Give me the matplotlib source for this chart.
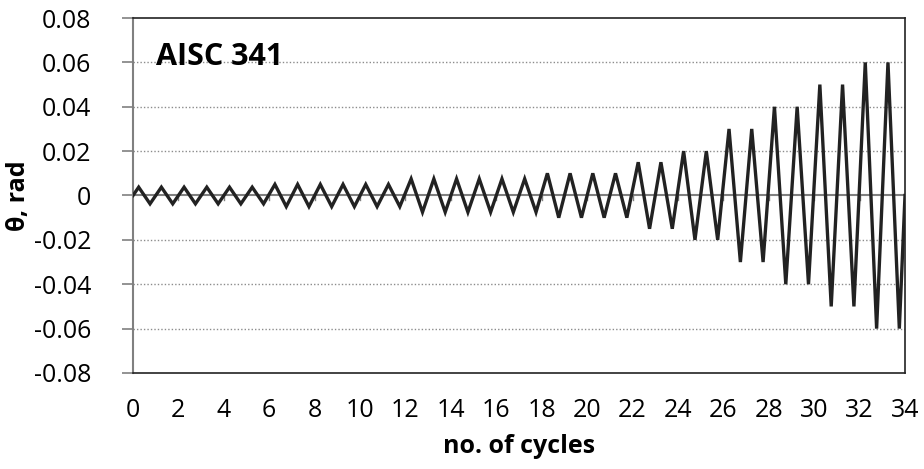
import numpy as np
import matplotlib
matplotlib.use('Agg')
import matplotlib.pyplot as plt

plt.rcParams['font.family'] = ['Open Sans', 'DejaVu Sans']

# drift amplitude of each loading cycle (rad), AISC 341 protocol
cycle_amp = [0.00375] * 6 + [0.005] * 6 + [0.0075] * 6 + [0.01] * 4 + \
    [0.015] * 2 + [0.02] * 2 + [0.03] * 2 + [0.04] * 2 + [0.05] * 2 + [0.06] * 2
y_ticks = [-0.08, -0.06, -0.04, -0.02, 0, 0.02, 0.04, 0.06, 0.08]
y_labels = ['-0.08', '-0.06', '-0.04', '-0.02', '0', '0.02', '0.04', '0.06', '0.08']
x_ticks = list(range(0, 35, 2))

# peak at quarter cycle, trough at three quarters
xs = [0.0]
ys = [0.0]
for i, a in enumerate(cycle_amp):
    xs += [i + 0.25, i + 0.75]
    ys += [a, -a]
xs.append(len(cycle_amp))
ys.append(0.0)

fig = plt.figure(figsize=(9.24, 4.69), dpi=100)
ax = fig.add_axes([133 / 924, 1 - 373 / 469, (905 - 133) / 924, (373 - 18) / 469])

for yv in y_ticks[1:-1]:
    if yv != 0:
        ax.axhline(yv, color='#8c8c8c', lw=1.0, ls=(0, (1, 1.5)), zorder=1)
ax.axhline(0, color='#808080', lw=1.5, zorder=2)
# small ticks on the zero axis
for xv in x_ticks[1:]:
    ax.plot([xv, xv], [0, -0.0022], color='#808080', lw=1.0, zorder=2)

ax.plot(xs, ys, color='#222222', lw=2.4, zorder=3, solid_joinstyle='miter')

ax.set_xlim(0, 34)
ax.set_ylim(-0.08, 0.08)
ax.set_yticks(y_ticks)
ax.set_yticklabels(y_labels)
ax.set_xticks(x_ticks)
ax.tick_params(axis='y', length=8, width=1.2, color='#808080', labelsize=18, pad=22)
ax.tick_params(axis='x', length=0, labelsize=18, pad=18)

for s in ['top', 'right', 'bottom']:
    ax.spines[s].set_color('#222222')
    ax.spines[s].set_linewidth(1.2)
ax.spines['left'].set_color('#808080')
ax.spines['left'].set_linewidth(1.5)

ax.set_xlabel('no. of cycles', fontsize=18, fontweight='bold', labelpad=8)
ax.set_ylabel('θ, rad', fontsize=18, fontweight='bold', labelpad=2)
ax.text(1.0, 0.0625, 'AISC 341', fontsize=22, fontweight='bold', va='center', ha='left')

fig.savefig('out.png', dpi=100)
